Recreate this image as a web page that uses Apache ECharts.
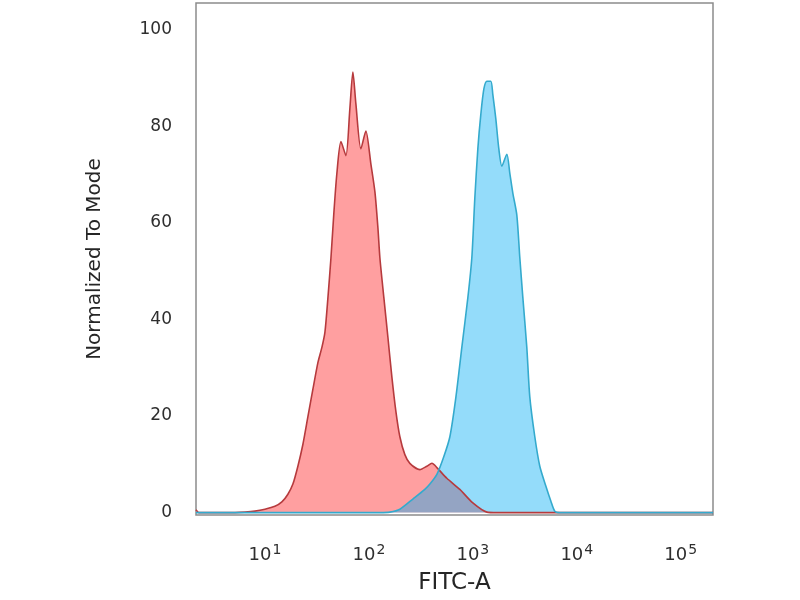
<!DOCTYPE html>
<html><head><meta charset="utf-8">
<script src="https://cdn.jsdelivr.net/npm/echarts@6/dist/echarts.min.js"></script>
<style>html,body{margin:0;padding:0;background:#fff}#c{width:800px;height:600px}</style>
</head><body><div id="c"></div>
<script>
// x values are log10(FITC-A) decades; y values are % of mode
const redX = [0.337,0.365,0.423,0.712,0.808,0.904,1.0,1.096,1.163,1.221,1.269,1.317,1.365,1.413,1.462,1.510,1.548,1.577,1.606,1.635,1.663,1.692,1.731,1.779,1.817,1.846,1.875,1.923,1.971,2.019,2.058,2.087,2.106,2.144,2.183,2.221,2.260,2.298,2.346,2.394,2.490,2.558,2.606,2.663,2.750,2.875,3.0,3.135,3.231,4.0,5.31];
const redY = [0.6,0,0,0,0.1,0.3,0.7,1.3,2.2,3.8,5.9,9.6,14.1,19.8,25.6,31.1,34.2,37.3,44.5,52.7,62.0,70.2,76.8,73.9,83.6,91.2,84.6,75.3,79.0,72.2,66.4,58.9,52.7,44.5,36.3,28.1,20.9,15.7,12.0,10.2,8.9,9.6,10.2,9.1,7.1,4.8,2.0,0.1,0,0,0];
const blueX = [0.337,1.0,2.0,2.106,2.202,2.298,2.423,2.538,2.587,2.654,2.721,2.779,2.837,2.894,2.952,2.990,3.019,3.048,3.077,3.106,3.135,3.173,3.192,3.221,3.250,3.279,3.327,3.356,3.385,3.423,3.452,3.481,3.519,3.548,3.596,3.644,3.702,3.750,3.788,3.837,4.5,5.31];
const blueY = [0,0,0,0,0.1,0.7,2.8,4.8,5.9,7.9,11.6,15.7,23.9,34.2,44.5,52.7,65.1,75.3,82.5,87.7,89.3,89.3,86.6,81.5,75.3,71.7,74.2,70.2,66.1,61.6,52.7,44.5,34.2,23.9,15.7,9.6,5.5,2.4,0.3,0,0,0];
const xTicks = [1,2,3,4,5];
const yTicks = [0,20,40,60,80,100];

const zip = (xs, ys) => xs.map((x, i) => [x, ys[i]]);
const chart = echarts.init(document.getElementById('c'), null, {renderer: 'canvas'});
const font = 'DejaVu Sans';
chart.setOption({
  animation: false,
  grid: {left: 196, right: 87, top: 3, bottom: 81, show: true, borderColor: '#8c8c8c', borderWidth: 1.5, backgroundColor: '#fff'},
  xAxis: {
    type: 'value', min: 0.337, max: 5.31,
    name: 'FITC-A', nameLocation: 'middle', nameGap: 57,
    nameTextStyle: {fontFamily: font, fontSize: 23, color: '#262626'},
    axisLine: {show: false}, axisTick: {show: false}, splitLine: {show: false},
    axisLabel: {
      customValues: xTicks, margin: 28,
      formatter: v => '{b|10}{s|' + Math.round(v) + '}',
      rich: {
        b: {fontFamily: font, fontSize: 18, color: '#2e2e2e'},
        s: {fontFamily: font, fontSize: 14, color: '#2e2e2e', verticalAlign: 'bottom', padding: [0, 0, 11, 1]}
      }
    }
  },
  yAxis: {
    type: 'value', min: -0.5, max: 105.5,
    name: 'Normalized To Mode', nameLocation: 'middle', nameGap: 91,
    nameTextStyle: {fontFamily: font, fontSize: 20, color: '#262626'},
    axisLine: {show: false}, axisTick: {show: false}, splitLine: {show: false},
    axisLabel: {customValues: yTicks, margin: 24, fontFamily: font, fontSize: 17, color: '#2e2e2e'}
  },
  series: [
    {
      type: 'line', data: zip(redX, redY), smooth: 0.25, showSymbol: false,
      lineStyle: {color: '#b63a3d', width: 1.6},
      areaStyle: {color: '#ff9fa0', opacity: 1}
    },
    {
      type: 'line', data: zip(blueX, blueY), smooth: 0.25, showSymbol: false,
      lineStyle: {color: '#34aacd', width: 1.6},
      areaStyle: {color: 'rgb(0,172,242)', opacity: 0.42}
    }
  ]
});
</script></body></html>
